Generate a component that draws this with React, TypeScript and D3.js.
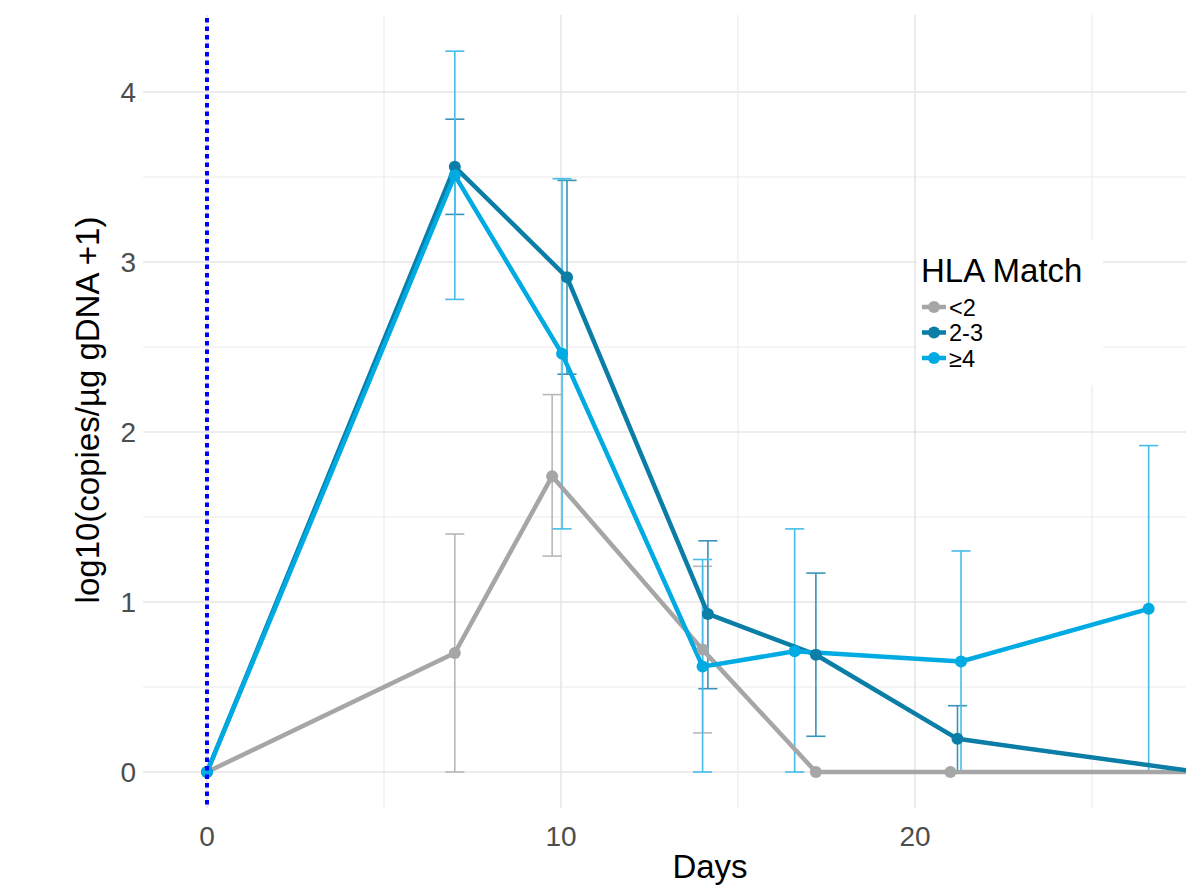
import React from "react";
import * as d3 from "d3";

const W = 1186;
const H = 886;

const groups = ["<2", "2-3", "≥4"];
const colors = ["#a6a6a6", "#0a7ea6", "#00aae2"];
const barColors = ["#b8b8b8", "#3a93b8", "#45bde9"];

// <2
const daysLt2 = [0, 7, 9.75, 14, 17.2, 21, 28.5];
const meanLt2 = [0, 0.7, 1.74, 0.72, 0, 0, 0];
const lowLt2 = [null, 0, 1.27, 0.23, null, null, null];
const highLt2 = [null, 1.4, 2.22, 1.21, null, null, null];

// 2-3
const days23 = [0, 7, 10.17, 14.15, 17.2, 21.2, 28];
const mean23 = [0, 3.56, 2.91, 0.93, 0.69, 0.195, 0];
const low23 = [null, 3.28, 2.34, 0.49, 0.21, 0, null];
const high23 = [null, 3.84, 3.48, 1.36, 1.17, 0.39, null];

// >=4
const daysGe4 = [0, 7, 10.03, 14.0, 16.6, 21.3, 26.6];
const meanGe4 = [0, 3.51, 2.46, 0.62, 0.71, 0.65, 0.96];
const lowGe4 = [null, 2.78, 1.43, 0, 0, 0, 0];
const highGe4 = [null, 4.24, 3.49, 1.25, 1.43, 1.3, 1.92];

const xMajor = [0, 10, 20, 30];
const xMinor = [5, 15, 25];
const yMajor = [0, 1, 2, 3, 4];
const yMinor = [0.5, 1.5, 2.5, 3.5];

const series = [
  { days: daysLt2, mean: meanLt2, low: lowLt2, high: highLt2 },
  { days: days23, mean: mean23, low: low23, high: high23 },
  { days: daysGe4, mean: meanGe4, low: lowGe4, high: highGe4 },
];

const FONT = "'Liberation Sans', Arial, Helvetica, sans-serif";

export default function App() {
  const x = d3.scaleLinear().domain([0, 20]).range([207, 915]);
  const y = d3.scaleLinear().domain([0, 4]).range([772, 92]);
  const panel = { left: 143, right: 1273, top: 15, bottom: 808 };
  const capHalf = 0.27;

  const line = d3
    .line<[number, number]>()
    .x((d) => x(d[0]))
    .y((d) => y(d[1]));

  return (
    <svg
      width={W}
      height={H}
      style={{ position: "absolute", left: 0, top: 0, background: "#fff" }}
    >
      <defs>
        <clipPath id="panel">
          <rect
            x={panel.left}
            y={panel.top}
            width={panel.right - panel.left}
            height={panel.bottom - panel.top}
          />
        </clipPath>
      </defs>
      <rect x={0} y={0} width={W} height={H} fill="#fff" />
      <g clipPath="url(#panel)">
        {yMinor.map((v) => (
          <line
            key={"ym" + v}
            x1={panel.left}
            x2={panel.right}
            y1={y(v)}
            y2={y(v)}
            stroke="#ececec"
            strokeWidth={1.2}
          />
        ))}
        {xMinor.map((v) => (
          <line
            key={"xm" + v}
            x1={x(v)}
            x2={x(v)}
            y1={panel.top}
            y2={panel.bottom}
            stroke="#ececec"
            strokeWidth={1.2}
          />
        ))}
        {yMajor.map((v) => (
          <line
            key={"yM" + v}
            x1={panel.left}
            x2={panel.right}
            y1={y(v)}
            y2={y(v)}
            stroke="#e6e6e6"
            strokeWidth={1.6}
          />
        ))}
        {xMajor.map((v) => (
          <line
            key={"xM" + v}
            x1={x(v)}
            x2={x(v)}
            y1={panel.top}
            y2={panel.bottom}
            stroke="#e6e6e6"
            strokeWidth={1.6}
          />
        ))}

        {/* error bars */}
        {series.map((s, gi) =>
          s.days.map((d, i) => {
            const lo = s.low[i];
            const hi = s.high[i];
            if (lo === null || hi === null) return null;
            return (
              <g key={"eb" + gi + "-" + i} stroke={barColors[gi]} strokeWidth={1.6}>
                <line x1={x(d)} x2={x(d)} y1={y(lo)} y2={y(hi)} />
                <line x1={x(d - capHalf)} x2={x(d + capHalf)} y1={y(lo)} y2={y(lo)} />
                <line x1={x(d - capHalf)} x2={x(d + capHalf)} y1={y(hi)} y2={y(hi)} />
              </g>
            );
          })
        )}

        {/* lines */}
        {series.map((s, gi) => (
          <path
            key={"ln" + gi}
            d={line(s.days.map((d, i) => [d, s.mean[i]] as [number, number])) || ""}
            fill="none"
            stroke={colors[gi]}
            strokeWidth={4.5}
            strokeLinejoin="round"
          />
        ))}
        {/* points */}
        {series.map((s, gi) =>
          s.days.map((d, i) => (
            <circle
              key={"pt" + gi + "-" + i}
              cx={x(d)}
              cy={y(s.mean[i])}
              r={6}
              fill={colors[gi]}
            />
          ))
        )}

        {/* vline at 0 */}
        <line
          x1={x(0)}
          x2={x(0)}
          y1={panel.top + 3}
          y2={panel.bottom}
          stroke="#0000ff"
          strokeWidth={4}
          strokeDasharray="4.5,4"
        />
      </g>

      {/* y tick labels */}
      {yMajor.map((v) => (
        <text
          key={"yt" + v}
          x={136}
          y={y(v) + 10}
          textAnchor="end"
          fontFamily={FONT}
          fontSize={28}
          fill="#4d4d4d"
        >
          {v}
        </text>
      ))}
      {/* x tick labels */}
      {xMajor
        .filter((v) => x(v) < W)
        .map((v) => (
          <text
            key={"xt" + v}
            x={x(v)}
            y={846}
            textAnchor="middle"
            fontFamily={FONT}
            fontSize={28}
            fill="#4d4d4d"
          >
            {v}
          </text>
        ))}

      {/* axis titles */}
      <text
        x={710}
        y={878}
        textAnchor="middle"
        fontFamily={FONT}
        fontSize={33}
        fill="#000"
      >
        Days
      </text>
      <text
        transform="translate(99,410) rotate(-90)"
        textAnchor="middle"
        fontFamily={FONT}
        fontSize={33}
        fill="#000"
      >
        log10(copies/µg gDNA +1)
      </text>

      {/* legend */}
      <rect x={917} y={240} width={186} height={145} fill="#fff" />
      <text x={921} y={282} fontFamily={FONT} fontSize={33} fill="#000">
        HLA Match
      </text>
      {groups.map((g, i) => {
        const cy = 307 + i * 25.5;
        return (
          <g key={"lg" + g}>
            <line
              x1={922}
              x2={946}
              y1={cy}
              y2={cy}
              stroke={colors[i]}
              strokeWidth={4.5}
            />
            <circle cx={934} cy={cy} r={6} fill={colors[i]} />
            <text
              x={949}
              y={cy + 8.5}
              fontFamily={FONT}
              fontSize={23.5}
              fill="#000"
            >
              {g}
            </text>
          </g>
        );
      })}
    </svg>
  );
}
